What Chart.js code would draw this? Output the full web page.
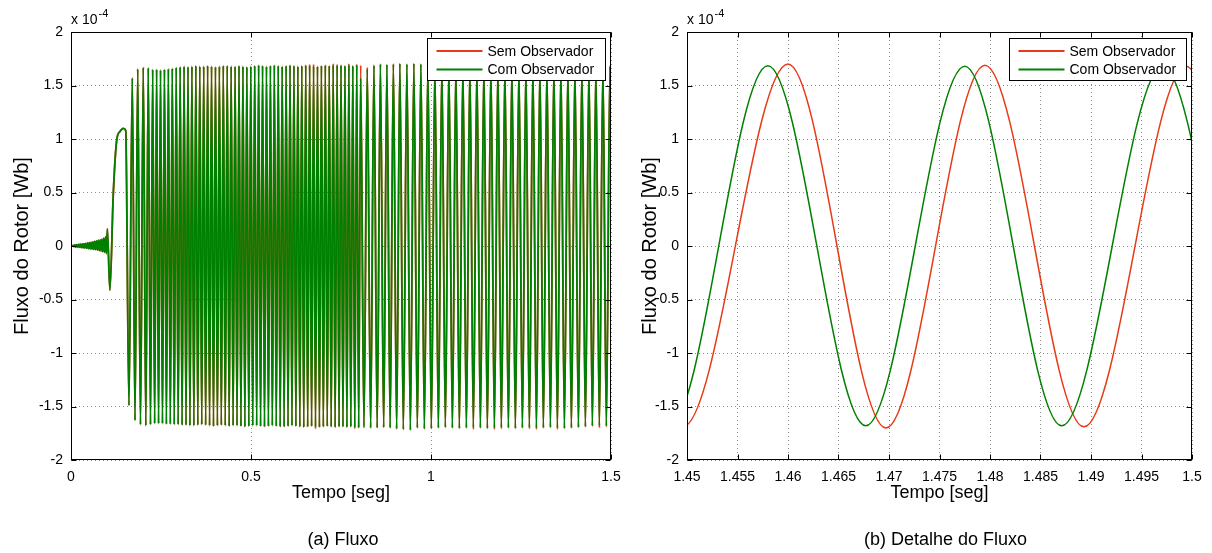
<!DOCTYPE html>
<html>
<head>
<meta charset="utf-8">
<script src="https://cdn.jsdelivr.net/npm/chart.js@4.4.0/dist/chart.umd.min.js"></script>
<style>
html,body{margin:0;padding:0;background:#fff;}
body{width:1212px;height:553px;position:relative;overflow:hidden;}
#fluxo{position:absolute;left:0;top:0;}
#detalhe{position:absolute;left:634px;top:0;}
</style>
</head>
<body>
<canvas id="fluxo" width="640" height="553"></canvas>
<canvas id="detalhe" width="578" height="553"></canvas>
<script>
// (a) Fluxo - instantes dos extremos [s], valores em 1e-4 Wb
const fluxoTempo = [
  0, 0.004,
  0.006, 0.0085, 0.011, 0.0135, 0.016, 0.0185, 0.021, 0.0235, 0.026, 0.0285,
  0.031, 0.0335, 0.036, 0.0385, 0.041, 0.0435, 0.046, 0.0485, 0.051, 0.0535,
  0.056, 0.0585, 0.061, 0.0635, 0.066, 0.0685, 0.071, 0.0735, 0.076, 0.0785,
  0.081, 0.0835, 0.086, 0.0885, 0.091, 0.0935, 0.096, 0.0985,
  0.101, 0.108, 0.1175, 0.127, 0.136, 0.145, 0.152, 0.161,
  0.1703, 0.1778, 0.1853, 0.1930, 0.2008, 0.2078, 0.2147, 0.2208, 0.2269, 0.2323,
  0.2378, 0.2432, 0.2487, 0.2541, 0.2596, 0.2650, 0.2705, 0.2759, 0.2814, 0.2868,
  0.2923, 0.2977, 0.3032, 0.3086, 0.3141, 0.3195, 0.3250, 0.3304, 0.3359, 0.3413,
  0.3468, 0.3522, 0.3577, 0.3631, 0.3686, 0.3740, 0.3795, 0.3849, 0.3904, 0.3958,
  0.4013, 0.4067, 0.4122, 0.4176, 0.4231, 0.4285, 0.4340, 0.4394, 0.4449, 0.4503,
  0.4558, 0.4612, 0.4667, 0.4721, 0.4776, 0.4830, 0.4885, 0.4939, 0.4994, 0.5048,
  0.5103, 0.5157, 0.5212, 0.5266, 0.5321, 0.5375, 0.5430, 0.5484, 0.5539, 0.5593,
  0.5648, 0.5702, 0.5757, 0.5811, 0.5866, 0.5920, 0.5975, 0.6029, 0.6084, 0.6138,
  0.6193, 0.6247, 0.6302, 0.6356, 0.6411, 0.6465, 0.6520, 0.6574, 0.6629, 0.6683,
  0.6738, 0.6792, 0.6847, 0.6901, 0.6956, 0.7010, 0.7065, 0.7119, 0.7174, 0.7228,
  0.7283, 0.7337, 0.7392, 0.7446, 0.7501, 0.7555, 0.7610, 0.7664, 0.7719, 0.7773,
  0.7828, 0.7882, 0.7937, 0.7991, 0.8046, 0.8138,
  0.8230, 0.8323, 0.8415, 0.8505, 0.8595, 0.8685, 0.8775, 0.8865, 0.8955, 0.9045,
  0.9135, 0.9232, 0.9330, 0.9427, 0.9524, 0.9621, 0.9719, 0.9816, 0.9913, 1.0010,
  1.0108, 1.0205, 1.0302, 1.0399, 1.0497, 1.0594, 1.0691, 1.0788, 1.0886, 1.0983,
  1.1080, 1.1177, 1.1275, 1.1372, 1.1469, 1.1566, 1.1664, 1.1761, 1.1858, 1.1955,
  1.2053, 1.2150, 1.2247, 1.2344, 1.2442, 1.2539, 1.2636, 1.2733, 1.2831, 1.2928,
  1.3025, 1.3122, 1.3220, 1.3317, 1.3414, 1.3511, 1.3609, 1.3706, 1.3803, 1.3900,
  1.3998, 1.4095, 1.4192, 1.4289, 1.4387, 1.4483, 1.4580, 1.4677, 1.4775, 1.4871,
  1.4971, 1.5069, 1.5167
];

const fluxoCom = [
  0, 0,
  0.005, -0.005, 0.01, -0.008, 0.012, -0.01, 0.015, -0.012, 0.018, -0.015,
  0.02, -0.017, 0.022, -0.019, 0.025, -0.021, 0.028, -0.024, 0.031, -0.026,
  0.034, -0.028, 0.038, -0.031, 0.042, -0.034, 0.047, -0.038, 0.052, -0.042,
  0.058, -0.047, 0.065, -0.053, 0.074, -0.06, 0.085, -0.07,
  0.16, -0.414, 0.49, 0.99, 1.07, 1.1, 1.08, -1.49,
  1.57, -1.63, 1.655, -1.67, 1.67, -1.68, 1.665, -1.67, 1.65, -1.66,
  1.65, -1.66, 1.645, -1.66, 1.65, -1.665, 1.655, -1.665, 1.66, -1.67,
  1.67, -1.67, 1.675, -1.675, 1.68, -1.675, 1.675, -1.68, 1.68, -1.68,
  1.685, -1.675, 1.68, -1.67, 1.68, -1.675, 1.685, -1.68, 1.68, -1.685,
  1.675, -1.68, 1.68, -1.675, 1.685, -1.68, 1.685, -1.685, 1.68, -1.68,
  1.68, -1.68, 1.685, -1.685, 1.68, -1.69, 1.675, -1.685, 1.68, -1.68,
  1.685, -1.68, 1.69, -1.685, 1.685, -1.69, 1.68, -1.685, 1.685, -1.68,
  1.69, -1.685, 1.685, -1.69, 1.68, -1.69, 1.685, -1.685, 1.69, -1.68,
  1.685, -1.685, 1.68, -1.69, 1.685, -1.695, 1.69, -1.69, 1.685, -1.685,
  1.68, -1.69, 1.68, -1.695, 1.685, -1.69, 1.69, -1.685, 1.685, -1.69,
  1.69, -1.695, 1.685, -1.69, 1.69, -1.69, 1.685, -1.695, 1.69, -1.69,
  1.685, -1.695, 1.69, -1.70, 1.57, -1.70,
  1.655, -1.70, 1.69, -1.70, 1.70, -1.695, 1.695, -1.70, 1.70, -1.71,
  1.705, -1.715, 1.70, -1.72, 1.705, -1.70, 1.70, -1.71, 1.70, -1.705,
  1.695, -1.70, 1.70, -1.695, 1.705, -1.70, 1.70, -1.705, 1.695, -1.70,
  1.70, -1.695, 1.695, -1.70, 1.70, -1.705, 1.705, -1.70, 1.70, -1.695,
  1.695, -1.70, 1.70, -1.705, 1.695, -1.70, 1.70, -1.695, 1.695, -1.70,
  1.70, -1.70, 1.695, -1.695, 1.70, -1.70, 1.695, -1.705, 1.69, -1.70,
  1.695, -1.695, 1.69, -1.69, 1.685, -1.68, 1.685, -1.68, 1.68, -1.68,
  1.68, -1.68, 1.68
];

const fluxoSem = [
  0, 0,
  0.005, -0.005, 0.01, -0.008, 0.012, -0.01, 0.015, -0.012, 0.018, -0.015,
  0.02, -0.017, 0.022, -0.019, 0.025, -0.021, 0.028, -0.024, 0.031, -0.026,
  0.034, -0.028, 0.038, -0.031, 0.042, -0.034, 0.047, -0.038, 0.052, -0.042,
  0.058, -0.047, 0.065, -0.053, 0.074, -0.06, 0.085, -0.07,
  0.16, -0.414, 0.49, 0.99, 1.07, 1.1, 1.08, -1.49,
  1.57, -1.63, 1.655, -1.67, 1.67, -1.68, 1.665, -1.67, 1.65, -1.66,
  1.65, -1.66, 1.645, -1.66, 1.65, -1.665, 1.655, -1.665, 1.66, -1.67,
  1.67, -1.67, 1.675, -1.675, 1.68, -1.675, 1.675, -1.68, 1.68, -1.68,
  1.685, -1.675, 1.68, -1.67, 1.68, -1.675, 1.685, -1.68, 1.68, -1.685,
  1.675, -1.68, 1.68, -1.675, 1.685, -1.68, 1.685, -1.685, 1.68, -1.68,
  1.68, -1.68, 1.685, -1.685, 1.68, -1.69, 1.675, -1.685, 1.68, -1.68,
  1.685, -1.68, 1.69, -1.685, 1.685, -1.69, 1.68, -1.685, 1.685, -1.68,
  1.69, -1.685, 1.685, -1.69, 1.68, -1.69, 1.685, -1.685, 1.69, -1.68,
  1.685, -1.685, 1.68, -1.69, 1.685, -1.695, 1.69, -1.69, 1.70, -1.685,
  1.70, -1.71, 1.68, -1.695, 1.685, -1.69, 1.69, -1.685, 1.685, -1.69,
  1.705, -1.695, 1.70, -1.69, 1.69, -1.69, 1.685, -1.695, 1.705, -1.69,
  1.685, -1.71, 1.70, -1.70, 1.69, -1.68,
  1.67, -1.70, 1.69, -1.70, 1.70, -1.695, 1.695, -1.70, 1.70, -1.71,
  1.705, -1.715, 1.70, -1.72, 1.705, -1.70, 1.70, -1.71, 1.70, -1.705,
  1.695, -1.70, 1.70, -1.695, 1.705, -1.70, 1.70, -1.705, 1.695, -1.70,
  1.70, -1.715, 1.695, -1.70, 1.70, -1.705, 1.705, -1.715, 1.70, -1.71,
  1.695, -1.70, 1.70, -1.705, 1.695, -1.70, 1.70, -1.71, 1.695, -1.715,
  1.70, -1.70, 1.695, -1.695, 1.70, -1.715, 1.695, -1.705, 1.69, -1.70,
  1.695, -1.695, 1.69, -1.69, 1.685, -1.685, 1.70, -1.70, 1.69, -1.69,
  1.68, -1.68, 1.68
];

// (b) Detalhe do Fluxo (extremos, incluindo um antes e um depois da janela)
const detalheTempoSem = [1.4398, 1.4496, 1.4600, 1.4697, 1.4795, 1.4893, 1.4994, 1.5090, 1.5188];
const detalheSem      = [1.69, -1.69, 1.70, -1.70, 1.69, -1.69, 1.68, -1.68, 1.68];
const detalheTempoCom = [1.4385, 1.4483, 1.4580, 1.4677, 1.4775, 1.4871, 1.4971, 1.5069, 1.5167];
const detalheCom      = [1.68, -1.68, 1.685, -1.68, 1.68, -1.68, 1.68, -1.68, 1.68];

const yTicks = [-2, -1.5, -1, -0.5, 0, 0.5, 1, 1.5, 2];

const VERMELHO = 'rgb(232,58,22)';
const VERDE = 'rgb(0,128,0)';
const FONTE = "'Liberation Sans', Arial, Helvetica, sans-serif";

Chart.defaults.font.family = FONTE;
Chart.defaults.color = '#000';

const pares = (xs, ys) => xs.map((t, i) => ({x: t, y: ys[i]}));
const rotulo = v => String(Math.round(v * 1000) / 1000);

// moldura estilo MATLAB: caixa, ticks para dentro, legenda, expoente e legenda da figura
const moldura = {
  id: 'moldura',
  afterDraw(chart, args, opts) {
    const {ctx, chartArea: a, scales: {x, y}} = chart;
    ctx.save();
    ctx.strokeStyle = '#000';
    ctx.lineWidth = 1;
    const L = Math.round(a.left) + 0.5, R = Math.round(a.right) - 0.5;
    const T = Math.round(a.top) + 0.5, B = Math.round(a.bottom) - 0.5;
    ctx.strokeRect(L, T, R - L, B - T);
    ctx.beginPath();
    x.ticks.forEach(t => {
      const p = Math.round(x.getPixelForValue(t.value)) + 0.5;
      ctx.moveTo(p, B); ctx.lineTo(p, B - 5);
      ctx.moveTo(p, T); ctx.lineTo(p, T + 5);
    });
    y.ticks.forEach(t => {
      const p = Math.round(y.getPixelForValue(t.value)) + 0.5;
      ctx.moveTo(L, p); ctx.lineTo(L + 5, p);
      ctx.moveTo(R, p); ctx.lineTo(R - 5, p);
    });
    ctx.stroke();

    // legenda
    const bw = opts.boxWidth, bh = 42;
    const bx = Math.round(a.right - 6 - bw) + 0.5, by = Math.round(a.top + 6) + 0.5;
    ctx.fillStyle = '#fff';
    ctx.fillRect(bx, by, bw, bh);
    ctx.strokeRect(bx, by, bw, bh);
    ctx.font = '14px ' + FONTE;
    ctx.textBaseline = 'middle';
    ctx.textAlign = 'left';
    chart.data.datasets.forEach((ds, i) => {
      const ly = by + 12.5 + i * 18.5;
      ctx.strokeStyle = ds.borderColor;
      ctx.lineWidth = 2;
      ctx.beginPath();
      ctx.moveTo(bx + 9, ly); ctx.lineTo(bx + 55, ly);
      ctx.stroke();
      ctx.fillStyle = '#000';
      ctx.fillText(ds.label, bx + 60, ly + 1);
    });

    // fator de escala
    ctx.fillStyle = '#000';
    ctx.textBaseline = 'alphabetic';
    ctx.font = '14px ' + FONTE;
    ctx.fillText('x 10', a.left, 24);
    const w = ctx.measureText('x 10').width;
    ctx.font = '11px ' + FONTE;
    ctx.fillText('-4', a.left + w + 1, 17);

    // legenda da figura
    ctx.font = '18px ' + FONTE;
    ctx.textAlign = 'center';
    ctx.textBaseline = 'middle';
    ctx.fillText(opts.legenda, (a.left + a.right) / 2 + opts.dx, 540);
    ctx.restore();
  }
};

function eixos(xmin, xmax, passo, yWidth) {
  return {
    x: {
      type: 'linear', min: xmin, max: xmax,
      afterFit: s => { s.height = 48; },
      ticks: {stepSize: passo, padding: 9, maxRotation: 0, autoSkip: false, font: {size: 14}, callback: rotulo},
      grid: {color: 'rgba(0,0,0,0.45)', drawTicks: false, lineWidth: 1},
      border: {display: false, dash: [1, 3]},
      title: {display: true, text: 'Tempo [seg]', font: {size: 18}, padding: {top: 0, bottom: 4}}
    },
    y: {
      min: -2, max: 2,
      afterFit: s => { s.width = yWidth; },
      afterBuildTicks: s => { s.ticks = yTicks.map(v => ({value: v})); },
      ticks: {padding: 8, font: {size: 14}, callback: rotulo},
      grid: {color: 'rgba(0,0,0,0.45)', drawTicks: false, lineWidth: 1},
      border: {display: false, dash: [1, 3]},
      title: {display: true, text: 'Fluxo do Rotor [Wb]', font: {size: 20}, padding: {top: 4, bottom: 0}}
    }
  };
}

function serie(label, dados, cor, ordem, largura) {
  return {
    label: label, data: dados, borderColor: cor, backgroundColor: cor,
    borderWidth: largura, pointRadius: 0, fill: false,
    cubicInterpolationMode: 'monotone', order: ordem
  };
}

new Chart(document.getElementById('fluxo'), {
  type: 'line',
  data: {datasets: [
    serie('Sem Observador', pares(fluxoTempo, fluxoSem), VERMELHO, 2, 1.8),
    serie('Com Observador', pares(fluxoTempo, fluxoCom), VERDE, 1, 1.8)
  ]},
  options: {
    responsive: false, animation: false, devicePixelRatio: 1,
    layout: {padding: {left: 6, top: 32, right: 29, bottom: 45}},
    scales: eixos(0, 1.5, 0.5, 65),
    plugins: {legend: {display: false}, tooltip: {enabled: false},
      moldura: {boxWidth: 178, legenda: '(a) Fluxo', dx: 2}}
  },
  plugins: [moldura]
});

new Chart(document.getElementById('detalhe'), {
  type: 'line',
  data: {datasets: [
    serie('Sem Observador', pares(detalheTempoSem, detalheSem), VERMELHO, 2, 1.5),
    serie('Com Observador', pares(detalheTempoCom, detalheCom), VERDE, 1, 1.5)
  ]},
  options: {
    responsive: false, animation: false, devicePixelRatio: 1,
    layout: {padding: {left: 0, top: 32, right: 20, bottom: 45}},
    scales: eixos(1.45, 1.5, 0.005, 53),
    plugins: {legend: {display: false}, tooltip: {enabled: false},
      moldura: {boxWidth: 177, legenda: '(b) Detalhe do Fluxo', dx: 6}}
  },
  plugins: [moldura]
});
</script>
</body>
</html>
